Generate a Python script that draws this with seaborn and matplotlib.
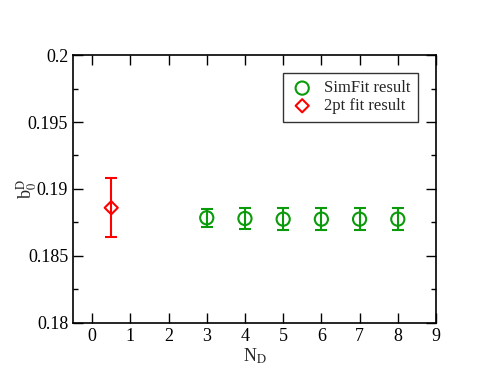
import matplotlib
matplotlib.use("Agg")
import matplotlib.pyplot as plt
import seaborn as sns
import pandas as pd
from matplotlib.ticker import MultipleLocator

# data
sim_nd = [3, 4, 5, 6, 7, 8]
sim_b0 = [0.18785, 0.18780, 0.18775, 0.18775, 0.18775, 0.18775]
sim_err = [0.00065, 0.00075, 0.00080, 0.00080, 0.00080, 0.00080]

twopt_nd = [0.5]
twopt_b0 = [0.18860]
twopt_err = [0.00222]

green = "#0a9a0a"
red = "#ff0000"

sns.set_style("ticks")
plt.rcParams["font.family"] = ["Liberation Serif", "DejaVu Serif"]
plt.rcParams["mathtext.fontset"] = "stix"

fig = plt.figure(figsize=(4.91, 3.82), dpi=100)
ax = fig.add_axes([0.1487, 0.1545, 0.7393, 0.7015])

df_sim = pd.DataFrame({"nd": sim_nd, "b0": sim_b0})
df_2pt = pd.DataFrame({"nd": twopt_nd, "b0": twopt_b0})

ax.errorbar(sim_nd, sim_b0, yerr=sim_err, fmt="none", ecolor=green,
            elinewidth=1.5, capsize=4, capthick=1.5, zorder=2)
ax.errorbar(twopt_nd, twopt_b0, yerr=twopt_err, fmt="none", ecolor=red,
            elinewidth=1.5, capsize=4, capthick=1.5, zorder=2)

sns.scatterplot(data=df_sim, x="nd", y="b0", ax=ax, marker="o", s=90,
                facecolor="none", edgecolor=green, linewidth=1.5,
                label="SimFit result", zorder=3)
sns.scatterplot(data=df_2pt, x="nd", y="b0", ax=ax, marker="D", s=45,
                facecolor="none", edgecolor=red, linewidth=1.5,
                label="2pt fit result", zorder=3)

ax.set_xlim(-0.5, 9)
ax.set_ylim(0.18, 0.2)
ax.set_xticks(range(0, 10))
ax.set_yticks([0.18, 0.185, 0.19, 0.195, 0.2])
ax.set_yticklabels(["0.18", "0.185", "0.19", "0.195", "0.2"])
ax.yaxis.set_minor_locator(MultipleLocator(0.0025))
ax.tick_params(which="both", direction="in", top=True, right=True,
               labelsize=13, width=1, colors="black")
ax.tick_params(which="major", length=7)
ax.tick_params(which="minor", length=3.5)
for s in ax.spines.values():
    s.set_linewidth(1.2)
    s.set_color("black")

ax.set_xlabel(r"N$_\mathrm{D}$", fontsize=13, labelpad=1)
ax.set_ylabel(r"b$_0^{\mathrm{D}}$", fontsize=13)
ax.yaxis.set_label_coords(-0.095, 0.5)

leg = ax.legend(loc="upper right", bbox_to_anchor=(0.95, 0.933), fontsize=12,
                frameon=True, fancybox=False, handletextpad=0.6,
                borderpad=0.45, labelspacing=0.1, handlelength=1.4,
                borderaxespad=0)
leg.get_frame().set_edgecolor("black")
leg.get_frame().set_linewidth(1)

fig.savefig("out.png", dpi=100)
